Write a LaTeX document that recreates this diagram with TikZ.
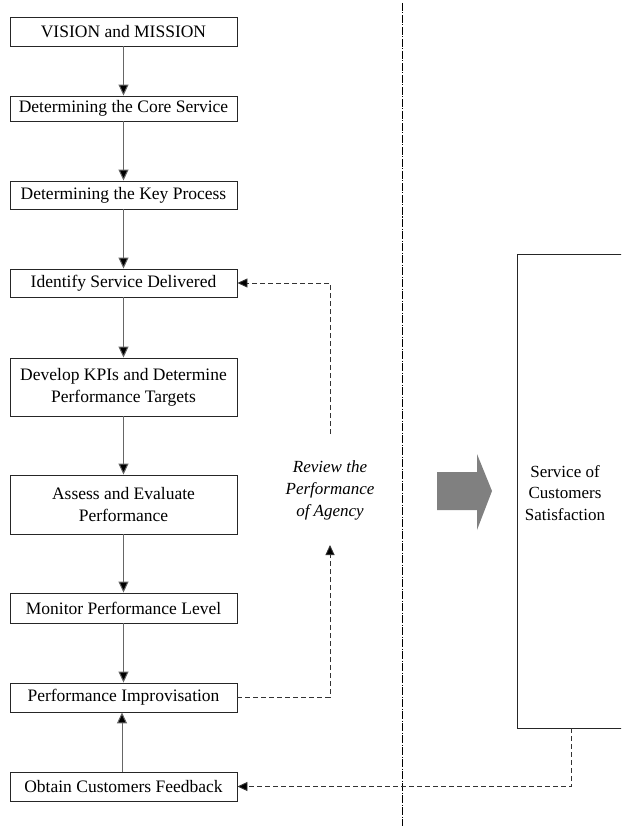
\documentclass[tikz,border=0pt]{standalone}
\usepackage{fontspec}
\setmainfont{Liberation Serif}
\usetikzlibrary{arrows.meta}
\tikzset{
  stepbox/.style={draw=black!85, line width=0.9pt, minimum width=227pt, inner sep=0pt, align=center, font=\fontsize{17.5}{22}\selectfont},
  flow/.style={draw=black!60, line width=1pt, -{Triangle[length=11pt,width=10pt,fill=black]}},
  fb/.style={draw=black!80, line width=0.9pt, dash pattern=on 5pt off 3pt, -{Triangle[length=10pt,width=9pt,fill=black]}},
}
\begin{document}
\begin{tikzpicture}[x=1pt,y=-1pt]
\useasboundingbox (0,0) rectangle (621,826);
\clip (0,0) rectangle (621,826);
% divider
\draw[black, line width=0.8pt, dash pattern=on 8pt off 1.5pt on 1pt off 1.5pt] (402,3) -- (402,826);
% steps
\node[stepbox, minimum height=29pt] (n1) at (123.5,31.5) {VISION and MISSION};
\node[stepbox, minimum height=25pt] (n2) at (123.5,108.5) {Determining the Core Service};
\node[stepbox, minimum height=28pt] (n3) at (123.5,195) {Determining the Key Process};
\node[stepbox, minimum height=28pt] (n4) at (123.5,283) {Identify Service Delivered};
\node[stepbox, minimum height=58pt] (n5) at (123.5,387) {Develop KPIs and Determine\\Performance Targets};
\node[stepbox, minimum height=59pt] (n6) at (123.5,504.5) {Assess and Evaluate\\Performance};
\node[stepbox, minimum height=30pt] (n7) at (123.5,608) {Monitor Performance Level};
\node[stepbox, minimum height=29pt] (n8) at (123.5,697.5) {Performance Improvisation};
\node[stepbox, minimum height=29pt] (n9) at (123.5,786.5) {Obtain Customers Feedback};
\draw[flow] (n1) -- (n2);
\draw[flow] (n2) -- (n3);
\draw[flow] (n3) -- (n4);
\draw[flow] (n4) -- (n5);
\draw[flow] (n5) -- (n6);
\draw[flow] (n6) -- (n7);
\draw[flow] (n7) -- (n8);
\draw[flow] ([xshift=-1.5pt]n9.north) -- ([xshift=-1.5pt]n8.south);
% review label and feedback loop
\node[align=center, font=\fontsize{17}{22}\selectfont\itshape] (rev) at (330,490) {Review the\\Performance\\of Agency};
\coordinate (upend) at (330,545);
\coordinate (upstart) at (330,434);
\draw[fb] (n8.east) -| (upend);
\draw[fb] (upstart) |- (n4.east);
% block arrow
\fill[black!50] (437,472) -- (477,472) -- (477,454) -- (492,491) -- (477,530) -- (477,510) -- (437,510) -- cycle;
% satisfaction box
\node[draw=black!85, line width=0.9pt, minimum width=140pt, minimum height=474pt, inner sep=0pt] (sat) at (587,491) {};
\node[align=center, font=\fontsize{17}{21.5}\selectfont] (satl) at (565,493) {Service of\\Customers\\Satisfaction};
\draw[fb] ([xshift=55pt]sat.south west) |- (n9.east);
\end{tikzpicture}
\end{document}
